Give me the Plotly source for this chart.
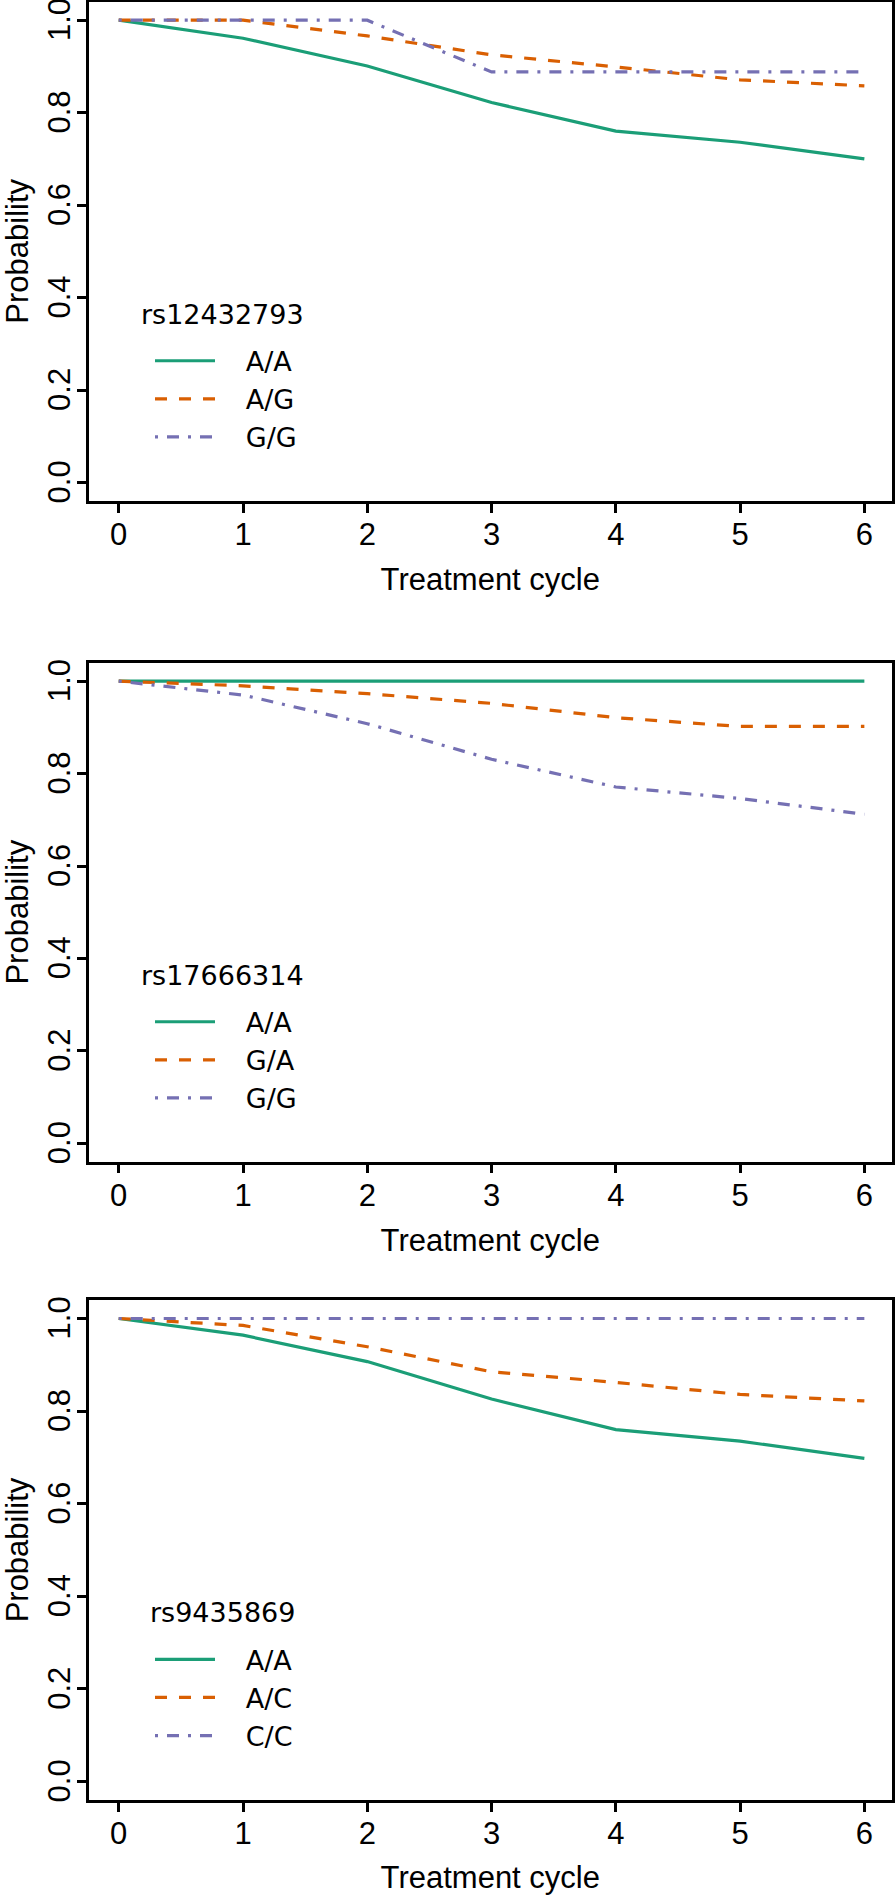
import plotly.graph_objects as go

# ---------------- data ----------------
cycles = [0, 1, 2, 3, 4, 5, 6]
x_tick_vals = [0, 1, 2, 3, 4, 5, 6]
x_tick_text = ["0", "1", "2", "3", "4", "5", "6"]
y_tick_vals = [0.0, 0.2, 0.4, 0.6, 0.8, 1.0]
y_tick_text = ["0.0", "0.2", "0.4", "0.6", "0.8", "1.0"]

snp_names = ["rs12432793", "rs17666314", "rs9435869"]

rs12432793_genotypes = ["A/A", "A/G", "G/G"]
rs12432793_AA = [1.0, 0.961, 0.901, 0.822, 0.760, 0.736, 0.700]
rs12432793_AG = [1.0, 1.0, 0.966, 0.925, 0.899, 0.871, 0.858]
rs12432793_GG = [1.0, 1.0, 1.0, 0.888, 0.888, 0.888, 0.888]

rs17666314_genotypes = ["A/A", "G/A", "G/G"]
rs17666314_AA = [1.0, 1.0, 1.0, 1.0, 1.0, 1.0, 1.0]
rs17666314_GA = [1.0, 0.990, 0.973, 0.952, 0.921, 0.902, 0.902]
rs17666314_GG = [1.0, 0.970, 0.908, 0.831, 0.771, 0.746, 0.712]

rs9435869_genotypes = ["A/A", "A/C", "C/C"]
rs9435869_AA = [1.0, 0.964, 0.907, 0.826, 0.760, 0.735, 0.698]
rs9435869_AC = [1.0, 0.985, 0.939, 0.885, 0.862, 0.836, 0.822]
rs9435869_CC = [1.0, 1.0, 1.0, 1.0, 1.0, 1.0, 1.0]

# ---------------- style ----------------
W, H = 895, 1895
FONT = "Liberation Sans, Arial, Helvetica, sans-serif"
LEG_FONT = "DejaVu Sans, Liberation Sans, Arial, sans-serif"
colors = ["#1B9E77", "#D95F02", "#7570B3"]
dashes = ["solid", "12px,12px", "3px,9px,12px,9px"]
LW = 3.2
GAP = "\u00a0\u00a0\u00a0"  # visual gap between legend sample and label

# panel boxes in pixels (top, bottom)
panel_px = [(1.7, 501.0), (662.7, 1161.7), (1300.0, 1800.0)]
x_px = (88.9, 891.7)
legend_mid_px = [399.2, 1060.2, 1697.8]
legend_title_px = [314.2, 975.2, 1612.8]

panels = [
    (rs12432793_genotypes, [rs12432793_AA, rs12432793_AG, rs12432793_GG]),
    (rs17666314_genotypes, [rs17666314_AA, rs17666314_GA, rs17666314_GG]),
    (rs9435869_genotypes, [rs9435869_AA, rs9435869_AC, rs9435869_CC]),
]

fig = go.Figure()
layout = dict(
    width=W, height=H, autosize=False,
    margin=dict(l=0, r=0, t=0, b=0, pad=0, autoexpand=False),
    paper_bgcolor="white", plot_bgcolor="white",
    font=dict(family=FONT, size=31, color="black"),
    annotations=[],
)

for i, (genos, series) in enumerate(panels):
    n = "" if i == 0 else str(i + 1)
    xa, ya = "x" + n, "y" + n
    leg = "legend" + n
    for g, vals, c, d in zip(genos, series, colors, dashes):
        fig.add_trace(go.Scatter(
            x=cycles, y=vals, mode="lines", name=GAP + g,
            line=dict(color=c, width=LW, dash=d),
            xaxis=xa, yaxis=ya, legend=leg, showlegend=True,
        ))
    top, bot = panel_px[i]
    common = dict(
        showline=True, linecolor="black", linewidth=2.5, mirror=True,
        ticks="outside", ticklen=9, tickwidth=2.5, tickcolor="black",
        showgrid=False, zeroline=False, automargin=False,
        ticklabeloverflow="allow",
        tickfont=dict(family=FONT, size=31, color="black"),
    )
    layout["xaxis" + n] = dict(
        common, domain=[x_px[0] / W, x_px[1] / W], anchor=ya,
        range=[-0.24, 6.22], tickmode="array",
        tickvals=x_tick_vals, ticktext=x_tick_text, ticklabelstandoff=-5,
        title=dict(text="Treatment cycle", font=dict(family=FONT, size=31, color="black"), standoff=18),
    )
    layout["yaxis" + n] = dict(
        common, domain=[1 - bot / H, 1 - top / H], anchor=xa,
        range=[-0.04, 1.04], tickmode="array",
        tickvals=y_tick_vals, ticktext=y_tick_text, tickangle=-90,
        ticklabelstandoff=-5, ticklabelshift=4,
        title=dict(text="Probability", font=dict(family=FONT, size=31, color="black"), standoff=24),
    )
    layout[leg] = dict(
        x=150 / W, xanchor="left", y=1 - legend_mid_px[i] / H, yanchor="middle",
        bgcolor="rgba(0,0,0,0)", borderwidth=0, itemwidth=60,
        font=dict(family=LEG_FONT, size=27, color="black"), tracegroupgap=0,
    )
    layout["annotations"].append(dict(
        text=snp_names[i], xref="paper", yref="paper",
        x=222 / W, y=1 - legend_title_px[i] / H, xanchor="center", yanchor="middle",
        showarrow=False, font=dict(family=LEG_FONT, size=27, color="black"),
    ))

fig.update_layout(**layout)

fig.write_html(
    "out.html",
    config={"displayModeBar": False},
    post_script="document.body.style.margin='0px';document.body.style.padding='0px';document.body.style.overflow='hidden';",
)
